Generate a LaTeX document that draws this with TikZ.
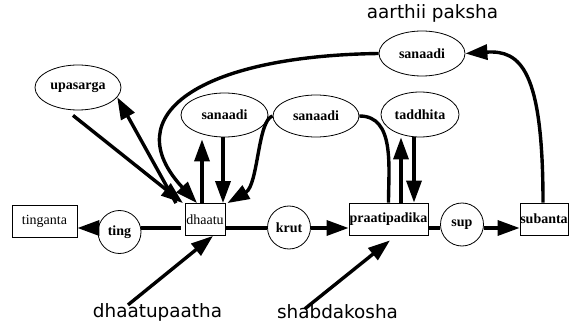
\documentclass[tikz,border=0pt]{standalone}
\usepackage{fontspec}
\setmainfont{Liberation Serif}
\newfontfamily\labelfont{DejaVu Sans}
\usetikzlibrary{arrows.meta,shapes.geometric,calc}
\begin{document}
\begin{tikzpicture}[x=1pt,y=-1pt,
  thinline/.style={line width=0.8pt},
  box/.style={draw,thinline,rectangle,inner sep=0pt,minimum height=32pt,font=\fontsize{14}{16}\selectfont},
  boldbox/.style={box,font=\bfseries\fontsize{14}{16}\selectfont},
  oval/.style={draw,thinline,ellipse,inner sep=0pt,font=\bfseries\fontsize{14}{16}\selectfont},
  rnd/.style={draw,thinline,circle,inner sep=0pt,minimum size=43pt,font=\bfseries\fontsize{14}{16}\selectfont},
  lbl/.style={font=\labelfont\fontsize{18.4}{20}\selectfont,inner sep=0pt},
  conn/.style={line width=3.4pt},
  arr/.style={conn,-{Triangle[length=22pt,width=15pt]}},
]
\useasboundingbox (0,0) rectangle (575,331);

% boxes and circles on the main line
\node[box,minimum width=65pt] (tinganta) at (44.5,221) {tinganta};
\node[rnd] (ting) at (119.5,232) {ting};
\node[box,minimum width=40pt] (dhaatu) at (205,219.5) {dhaatu};
\node[rnd] (krut) at (289,227.5) {krut};
\node[boldbox,minimum width=79pt] (prati) at (388.5,219) {praatipadika};
\node[rnd] (sup) at (462,224.5) {sup};
\node[boldbox,minimum width=48pt] (subanta) at (544,219) {subanta};

% ellipses
\node[oval,minimum width=86pt,minimum height=45pt] (upa) at (78,87.5) {upasarga};
\node[oval,minimum width=87pt,minimum height=44pt] (san1) at (224.5,115) {sanaadi};
\node[oval,minimum width=86pt,minimum height=42pt] (san2) at (316,116) {sanaadi};
\node[oval,minimum width=78pt,minimum height=45pt] (tad) at (420,114.5) {taddhita};
\node[oval,minimum width=86pt,minimum height=45pt] (san3) at (422,53.5) {sanaadi};

% free labels
\node[lbl] (ap) at (432.5,13) {aarthii paksha};
\node[lbl] (dp) at (157.5,312) {dhaatupaatha};
\node[lbl] (sk) at (337.5,312) {shabdakosha};

% main horizontal line
\coordinate (hl) at (0,228);
\draw[conn,shorten >=4pt] (ting.east |- hl) -- (dhaatu.west |- hl);
\draw[arr] (ting.west |- hl) -- (tinganta.east |- hl);
\draw[conn] (dhaatu.east |- hl) -- (krut.west |- hl);
\draw[arr] (krut.east |- hl) -- (prati.west |- hl);
\draw[conn] (prati.east |- hl) -- (sup.west |- hl);
\draw[arr] (sup.east |- hl) -- (subanta.west |- hl);

% dhaatu <-> sanaadi
\coordinate (d1) at ([xshift=-3pt]dhaatu.north);
\coordinate (d2) at ([xshift=-1.5pt]san1.south);
\draw[arr,shorten >=2pt] (d1) -- (d1 |- san1.south);
\draw[arr] (d2) -- (d2 |- dhaatu.north);

% praatipadika <-> taddhita
\coordinate (p1) at ([xshift=12.5pt]prati.north);
\coordinate (t1) at ([xshift=-6pt]tad.south);
\draw[arr] (p1) -- (p1 |- tad.south);
\draw[arr] (t1) -- (t1 |- prati.north);

% upasarga
\coordinate (ua) at ([xshift=-5pt,yshift=-5pt]upa.south);
\coordinate (da) at ([xshift=-22pt]dhaatu.north);
\coordinate (db) at ([xshift=-29pt]dhaatu.north);
\draw[arr] (ua) -- (da);
\draw[arr] (db) -- (upa.-14);

% middle sanaadi curves
\coordinate (dc) at ([xshift=2pt]dhaatu.north east);
\draw[arr] (san2.west) .. controls ($(san2.west)+(-15,4)$) and ($(dc)+(31,-18)$) .. (dc);
\draw[conn] (san2.east) to[out=0,in=90] (prati.north);

% aarthii sanaadi curves
\coordinate (dd) at ([xshift=-8pt]dhaatu.north);
\draw[arr] (san3.west) .. controls ($(san3.west)+(-179,2.5)$) and ($(dd)+(-82,-88)$) .. (dd);
\coordinate (sb) at ([xshift=-1pt]subanta.north);
\draw[arr] (sb) .. controls ($(sb)+(0,-133)$) and ($(san3.east)+(55,-3.5)$) .. (san3.east);

% label arrows
\coordinate (dps) at ([xshift=-29.5pt,yshift=-2pt]dp.north);
\coordinate (dpe) at ([xshift=8pt]dhaatu.south);
\draw[arr] (dps) -- (dpe);
\coordinate (sks) at ([xshift=-32.5pt,yshift=-4pt]sk.north);
\coordinate (ske) at ([xshift=1.5pt,yshift=-5pt]prati.south);
\draw[arr] (sks) -- (ske);
\end{tikzpicture}
\end{document}
